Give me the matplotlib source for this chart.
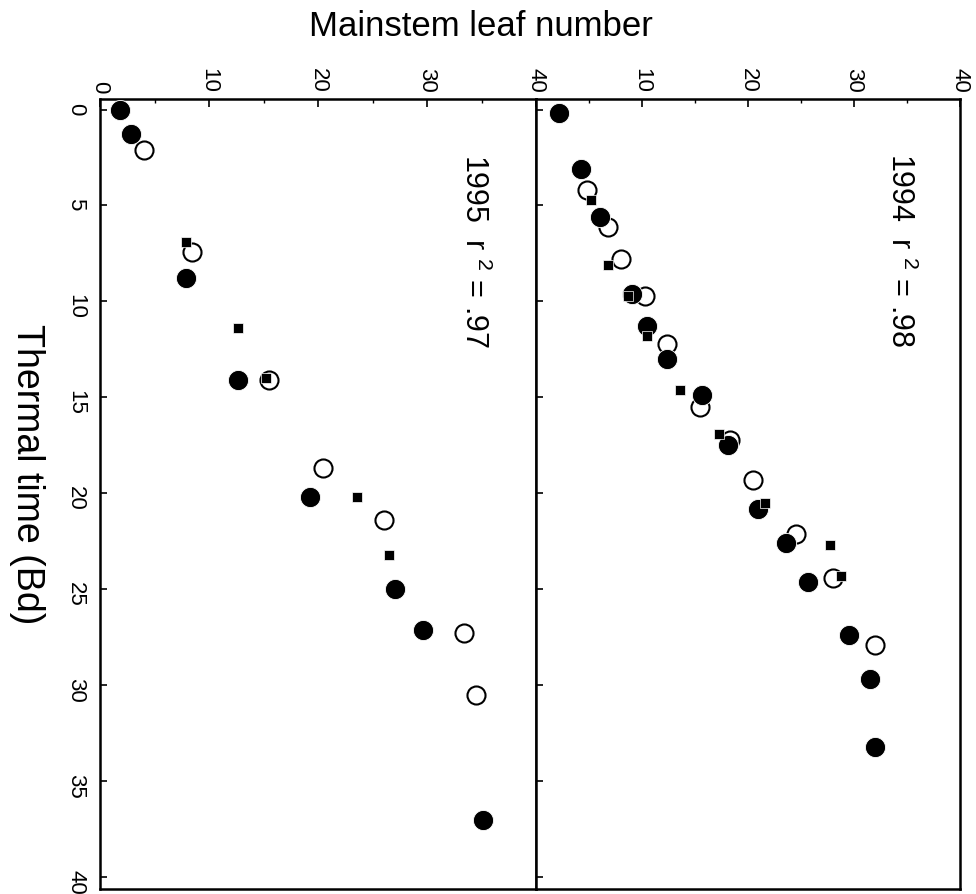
import matplotlib
matplotlib.use('Agg')
import matplotlib.pyplot as plt

plt.rcParams['font.family'] = ['Liberation Sans', 'DejaVu Sans']
plt.rcParams['mathtext.fontset'] = 'custom'
plt.rcParams['mathtext.rm'] = 'Liberation Sans'

# 1994 season: thermal time (Bd) and mainstem leaf number
t94_filled = [0.2, 3.1, 5.6, 9.6, 11.3, 13.0, 14.9, 17.5, 20.8, 22.6, 24.6, 27.4, 29.7, 33.2]
n94_filled = [2.2, 4.2, 6.0, 9.05, 10.5, 12.4, 15.7, 18.1, 20.9, 23.6, 25.7, 29.5, 31.5, 32.0]
t94_open = [4.2, 6.1, 7.8, 9.7, 12.2, 15.5, 17.2, 19.3, 22.1, 24.4, 27.9]
n94_open = [4.85, 6.8, 8.0, 10.3, 12.4, 15.5, 18.3, 20.5, 24.5, 28.0, 32.0]
t94_sq = [4.7, 8.1, 9.7, 11.8, 14.6, 16.9, 20.5, 22.7, 24.3]
n94_sq = [5.2, 6.8, 8.7, 10.5, 13.6, 17.3, 21.6, 27.7, 28.8]

# 1995 season
t95_filled = [0.0, 1.25, 8.8, 14.1, 20.2, 25.0, 27.1, 37.0]
n95_filled = [1.8, 2.8, 7.9, 12.7, 19.3, 27.1, 29.6, 35.1]
t95_open = [2.1, 7.4, 14.1, 18.7, 21.4, 27.3, 30.5]
n95_open = [4.0, 8.4, 15.5, 20.5, 26.1, 33.4, 34.5]
t95_sq = [6.9, 11.4, 14.0, 20.2, 23.2]
n95_sq = [7.9, 12.65, 15.2, 23.6, 26.5]

labels = ['1995', '1994']
r2 = ['.97', '.98']

fig = plt.figure(figsize=(9.76, 8.95), dpi=100)
ax95 = fig.add_axes([100 / 976, 1 - 890 / 895, 436 / 976, 790 / 895])
ax94 = fig.add_axes([536 / 976, 1 - 890 / 895, 424 / 976, 790 / 895])

panels = [
    (ax95, t95_filled, n95_filled, t95_open, n95_open, t95_sq, n95_sq),
    (ax94, t94_filled, n94_filled, t94_open, n94_open, t94_sq, n94_sq),
]

for i, (ax, tf, nf, to, no, ts, ns) in enumerate(panels):
    ax.plot(no, to, 'o', ms=13, mfc='white', mec='black', mew=1.5, zorder=3)
    ax.plot(nf, tf, 'o', ms=14.5, mfc='black', mec='white', mew=0.6, zorder=4)
    ax.plot(ns, ts, 's', ms=7.5, mfc='black', mec='white', mew=0.5, zorder=5)

    ax.set_xlim(0, 40)
    ax.set_ylim(40.62, -0.55)
    ax.xaxis.tick_top()
    ax.set_xticks([0, 10, 20, 30, 40])
    ax.set_xticks([5, 15, 25, 35], minor=True)
    ax.set_yticks(range(0, 41, 5))
    ax.tick_params(axis='x', which='major', direction='in', length=6, width=1.2,
                   labelsize=16, labelrotation=-90, pad=5, top=True, bottom=False)
    ax.tick_params(axis='x', which='minor', direction='in', length=3, width=1,
                   top=True, bottom=False)
    ax.tick_params(axis='y', direction='in', length=5, width=1.2, labelsize=16,
                   labelrotation=-90, pad=10, right=False)
    for sp in ax.spines.values():
        sp.set_linewidth(1.8)

    ax.text(34.3, 7.3, labels[i] + '  r $^{2}$ = ' + r2[i], rotation=-90,
            ha='center', va='center', fontsize=22)

ax94.set_xticklabels(['', '10', '20', '30', '40'])
ax94.set_yticklabels([])

fig.text(481 / 976, 1 - 27 / 895, 'Mainstem leaf number', ha='center', va='center',
         fontsize=25)
fig.text(27 / 976, 1 - 474 / 895, 'Thermal time (Bd)', rotation=-90, ha='center',
         va='center', fontsize=27)

fig.savefig('out.png', dpi=100)
